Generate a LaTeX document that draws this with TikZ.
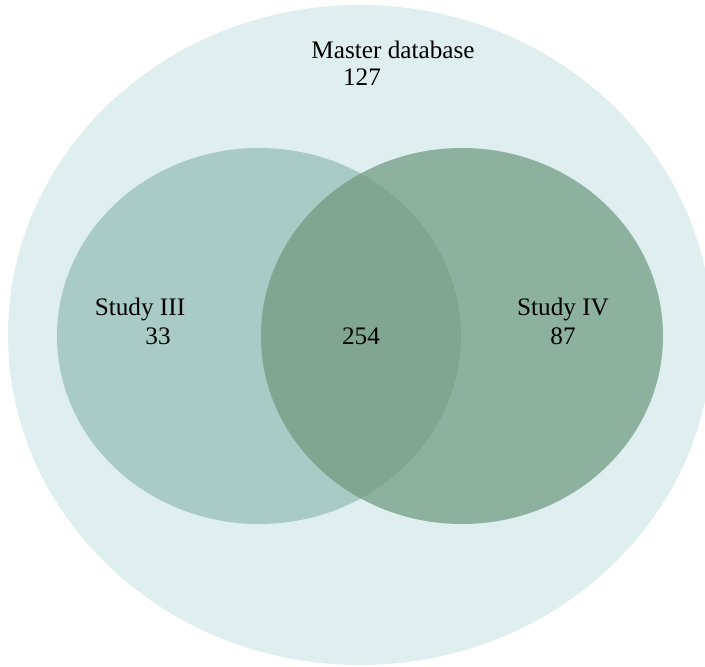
\documentclass[tikz,border=0pt]{standalone}
\usepackage{fontspec}
\setmainfont{Liberation Serif}
\usetikzlibrary{positioning}
\definecolor{mastercol}{HTML}{DFEEEF}
\definecolor{studythree}{HTML}{A8CBC5}
\definecolor{studyfour}{HTML}{8CB29F}
\definecolor{bothcol}{HTML}{80A691}

\begin{document}
\begin{tikzpicture}[
    x=0.5pt, y=-0.5pt,
    label/.style={font=\fontsize{12.6}{14}\selectfont, anchor=base, inner sep=0pt},
]
\useasboundingbox (0,0) rectangle (705,667);
\clip (0,0) rectangle (705,667);

% sets
\fill[mastercol] (360,335) ellipse [x radius=352, y radius=330];
\fill[studythree] (259,336) ellipse [x radius=202, y radius=188];
\fill[studyfour] (462,336) ellipse [x radius=201, y radius=188];
\begin{scope}
    \clip (259,336) ellipse [x radius=202, y radius=188];
    \fill[bothcol] (462,336) ellipse [x radius=201, y radius=188];
\end{scope}

% labels
\node[label] (master) at (393,59) {Master database};
\node[label] (mastern) at (362,86) {127};
\node[label] (three) at (140,316) {Study III};
\node[label] (threen) at (158,345) {33};
\node[label] (both) at (361,345) {254};
\node[label] (four) at (563,316) {Study IV};
\node[label] (fourn) at (563,345) {87};

\end{tikzpicture}
\end{document}
